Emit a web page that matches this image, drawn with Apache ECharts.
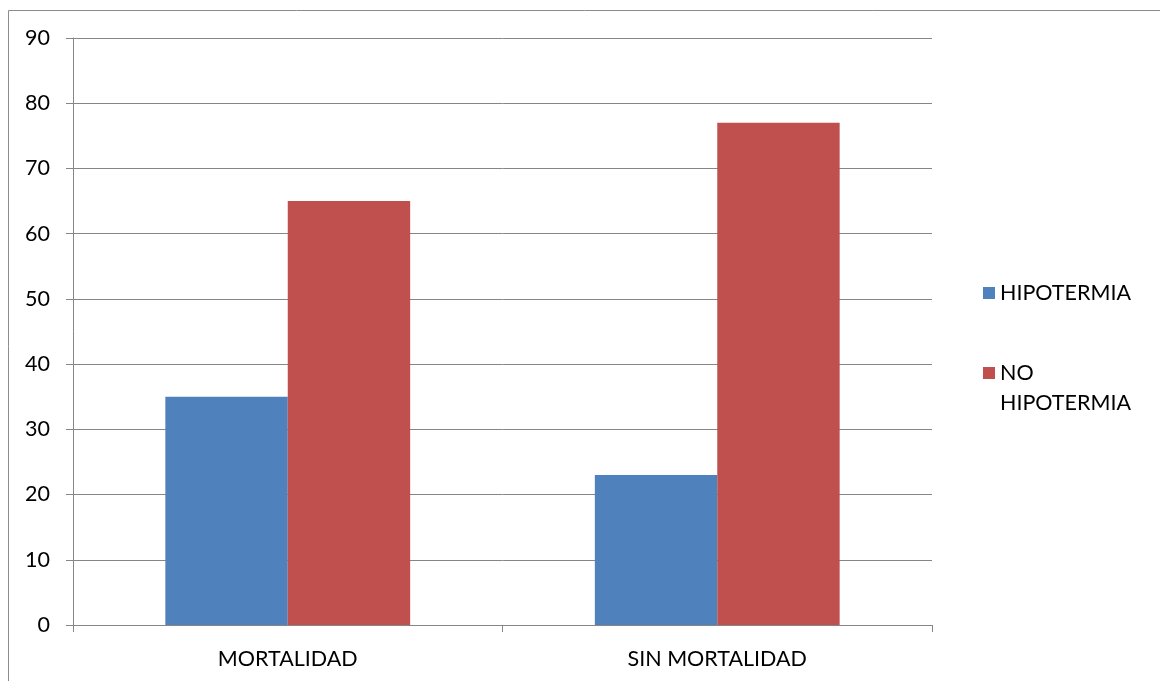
<!DOCTYPE html>
<html>
<head>
<meta charset="utf-8">
<script src="https://cdn.jsdelivr.net/npm/echarts@6/dist/echarts.min.js"></script>
<style>
  html, body { margin: 0; padding: 0; background: #ffffff; }
  #chart { width: 1160px; height: 681px; }
</style>
</head>
<body>
<div id="chart"></div>
<script>
// Categories and series values
const categories = ['MORTALIDAD', 'SIN MORTALIDAD'];
const seriesNames = ['HIPOTERMIA', 'NO HIPOTERMIA'];
const hipotermia = [35, 23];
const noHipotermia = [65, 77];
const yTicks = { min: 0, max: 90, interval: 10 };

const FONT = 'Lato';
const FONT_SIZE = 21.5;
const GREY = '#868686';

const chart = echarts.init(document.getElementById('chart'), null, { renderer: 'canvas' });

chart.setOption({
  animation: false,
  backgroundColor: '#ffffff',
  textStyle: { fontFamily: FONT },
  graphic: [{
    type: 'rect',
    shape: { x: 8.5, y: 10.5, width: 1300, height: 800 },
    style: { fill: 'none', stroke: '#8c8c8c', lineWidth: 1 },
    silent: true
  }],
  grid: { left: 73, right: 228, top: 38, bottom: 56, containLabel: false },
  legend: {
    orient: 'vertical',
    left: 978,
    top: 273,
    itemWidth: 12,
    itemHeight: 12,
    itemGap: 20,
    icon: 'rect',
    selectedMode: false,
    textStyle: { fontFamily: FONT, fontSize: FONT_SIZE, color: '#000000', lineHeight: 30 },
    // Two-word names wrap below the swatch: a blank first line keeps the
    // first word level with the swatch, which sits at the block's middle.
    formatter: function (name) {
      return name.indexOf(' ') >= 0 ? '\n' + name.replace(' ', '\n') : name;
    },
    data: seriesNames
  },
  xAxis: {
    type: 'category',
    data: categories,
    axisLine: { lineStyle: { color: GREY, width: 1 } },
    axisTick: { show: true, alignWithLabel: false, length: 7, lineStyle: { color: GREY } },
    axisLabel: { fontFamily: FONT, fontSize: FONT_SIZE, color: '#000000', margin: 23 },
    splitLine: { show: false }
  },
  yAxis: {
    type: 'value',
    min: yTicks.min,
    max: yTicks.max,
    interval: yTicks.interval,
    axisLine: { show: true, lineStyle: { color: GREY, width: 1 } },
    axisTick: { show: true, length: 7, lineStyle: { color: GREY } },
    axisLabel: { fontFamily: FONT, fontSize: FONT_SIZE, color: '#000000', margin: 23 },
    splitLine: { show: true, lineStyle: { color: GREY, width: 1 } }
  },
  series: [
    {
      name: seriesNames[0],
      type: 'bar',
      data: hipotermia,
      barGap: '0%',
      barCategoryGap: '43%',
      itemStyle: { color: '#4F81BD' }
    },
    {
      name: seriesNames[1],
      type: 'bar',
      data: noHipotermia,
      barGap: '0%',
      barCategoryGap: '43%',
      itemStyle: { color: '#C0504D' }
    }
  ]
});
</script>
</body>
</html>
